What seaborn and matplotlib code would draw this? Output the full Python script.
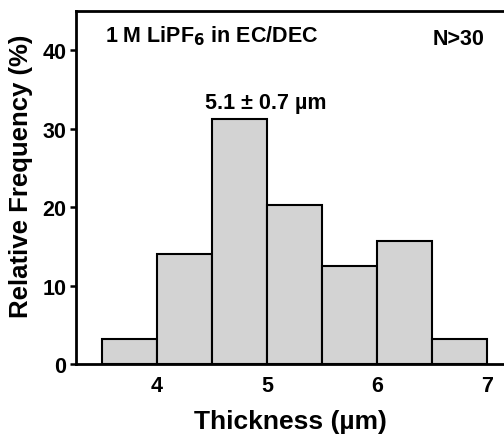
import matplotlib
matplotlib.use("Agg")
import matplotlib.pyplot as plt
import seaborn as sns
import numpy as np

# Data
bin_edges = [3.5, 4.0, 4.5, 5.0, 5.5, 6.0, 6.5, 7.0]
bin_centers = [3.75, 4.25, 4.75, 5.25, 5.75, 6.25, 6.75]
rel_freq = [3.125, 14.06, 31.25, 20.31, 12.5, 15.625, 3.125]
x_ticks = [4, 5, 6, 7]
y_ticks = [0, 10, 20, 30, 40]

sns.set_style("ticks")
plt.rcParams['font.family'] = ['Liberation Sans', 'DejaVu Sans']
plt.rcParams['font.weight'] = 'bold'
plt.rcParams['mathtext.default'] = 'bf'
plt.rcParams['text.color'] = 'black'
plt.rcParams['axes.labelcolor'] = 'black'
plt.rcParams['xtick.color'] = 'black'
plt.rcParams['ytick.color'] = 'black'

fig = plt.figure(figsize=(5.04, 4.39), dpi=100)
ax = fig.add_axes([76/504, (439-365)/439, 1 - 76/504, (365-12)/439])

sns.histplot(x=bin_centers, weights=rel_freq, bins=bin_edges, stat='count',
             color='#d3d3d3', alpha=1.0, edgecolor='black', linewidth=1.5, ax=ax)

ax.set_xlim(3.264, 7.155)
ax.set_ylim(0, 45)
ax.set_xticks(x_ticks)
ax.set_yticks(y_ticks)
ax.tick_params(axis='x', length=0, pad=8, labelsize=15.5)
ax.tick_params(axis='y', length=4, width=1.8, direction='out', pad=3, labelsize=15.5)
for lab in ax.get_xticklabels() + ax.get_yticklabels():
    lab.set_fontweight('bold')

for s in ['left', 'bottom', 'top']:
    ax.spines[s].set_linewidth(2)
    ax.spines[s].set_color('black')
ax.spines['right'].set_visible(False)

ax.set_xlabel('Thickness (µm)', fontsize=19, fontweight='bold', labelpad=9)
ax.set_ylabel('Relative Frequency (%)', fontsize=18.5, fontweight='bold')
ax.yaxis.set_label_coords(-0.1, 0.535)

ax.text(0.068, 0.915, r'1 M LiPF$_6$ in EC/DEC', transform=ax.transAxes,
        fontsize=15.5, fontweight='bold', ha='left', va='baseline')
ax.text(0.895, 0.907, 'N>30', transform=ax.transAxes,
        fontsize=15.5, fontweight='bold', ha='center', va='baseline')
ax.text(4.99, 32.6, '5.1 ± 0.7 µm', fontsize=15.5, fontweight='bold',
        ha='center', va='baseline')

fig.savefig('out.png', dpi=100)
